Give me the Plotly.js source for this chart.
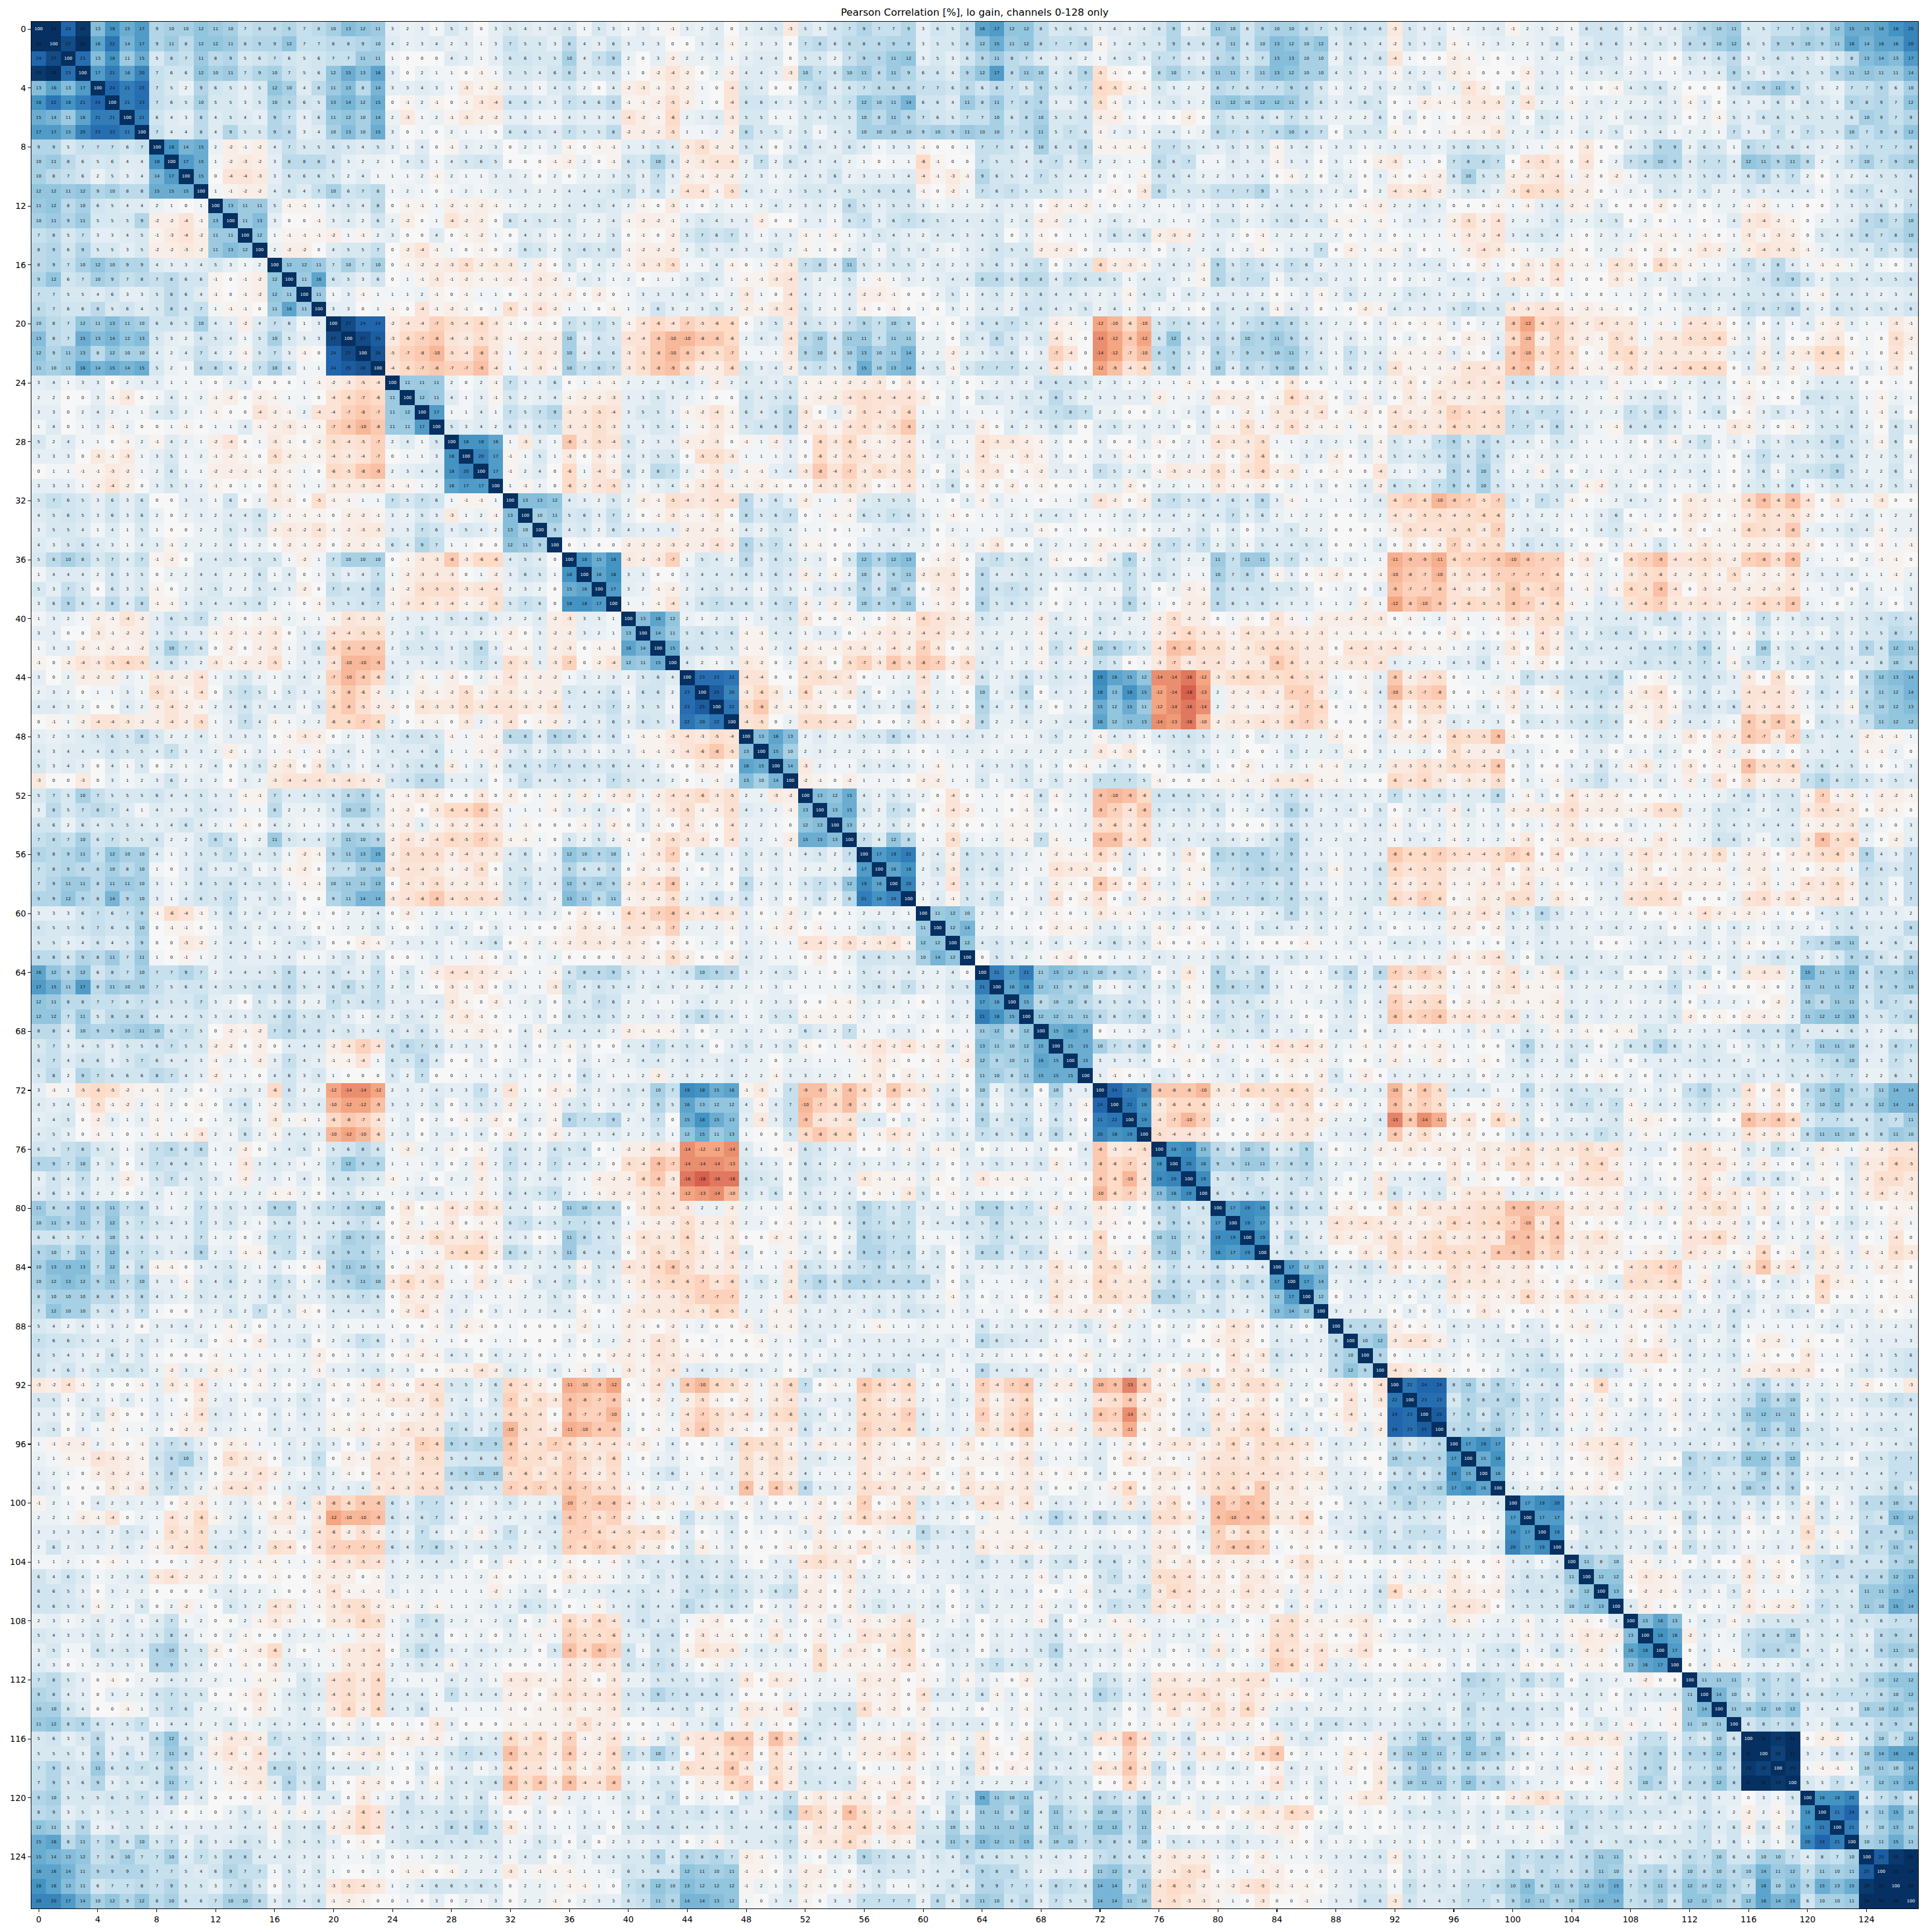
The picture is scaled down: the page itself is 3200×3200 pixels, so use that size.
<!DOCTYPE html>
<html><head><meta charset="utf-8"><script src="https://cdn.plot.ly/plotly-3.0.1.min.js"></script>
<style>html,body{margin:0;padding:0;background:#fff}</style></head><body><div id="c" style="width:3200px;height:3200px"></div>
<script>
const titleText='Pearson Correlation [%], lo gain, channels 0-128 only';
// Blocks of the correlation matrix: rows R.. , columns C.. (upper triangle is used, lower is its mirror)
const r0c0=[
[100,33,24,29,13,18,15,17,9,10,10,12,11,10,7,8,8,9,7,8,10,13,12,11,3,2,3,1,5,3,0,3],
[33,100,27,32,16,22,14,17,9,11,8,12,12,11,8,9,9,12,7,7,8,8,9,10,4,2,3,4,2,3,1,3],
[24,27,100,23,13,18,11,15,5,8,7,11,8,9,5,6,7,6,5,6,7,7,11,11,1,0,0,0,4,3,1,3],
[29,32,23,100,17,21,16,20,7,6,6,12,10,11,7,9,10,7,5,6,12,15,13,16,3,0,2,1,1,0,-1,1],
[13,16,13,17,100,24,21,23,7,5,2,9,6,5,3,5,12,10,4,8,11,13,8,14,3,3,4,3,1,-3,-1,-2],
[18,22,18,21,24,100,21,23,7,6,5,10,5,5,3,5,10,9,6,5,13,14,12,15,0,-1,2,-1,0,-1,-3,-4],
[15,14,11,16,21,21,100,21,6,4,3,8,4,5,4,3,9,7,3,6,11,12,10,14,2,-3,1,2,-1,-3,-2,-2],
[17,17,15,20,23,23,21,100,7,4,4,8,4,9,5,5,9,8,3,4,10,13,10,15,3,0,1,0,2,1,1,0],
[9,9,5,7,7,7,6,7,100,18,14,15,2,-2,-1,-2,4,7,5,5,6,5,4,5,3,1,4,0,-1,3,2,3],
[10,11,8,6,5,6,4,4,18,100,17,15,1,-2,-3,-2,3,8,8,8,6,3,2,2,1,4,5,1,4,5,6,5],
[10,8,7,6,2,5,3,4,14,17,100,15,0,-4,-4,-3,3,6,6,6,5,2,4,1,1,1,2,-1,2,1,1,3],
[12,12,11,12,9,10,8,8,15,15,15,100,1,-1,-2,-2,4,6,4,7,10,6,7,8,1,2,1,0,1,2,1,2],
[11,12,8,10,6,5,4,4,2,1,0,1,100,13,11,11,5,-1,-1,1,4,5,4,8,0,-1,-1,1,-2,-1,-2,-1],
[10,11,9,11,5,5,5,9,-2,-2,-4,-1,13,100,11,13,3,0,0,-1,3,4,2,6,2,-2,0,1,-4,-2,-2,0],
[7,8,5,7,3,3,4,5,-1,-3,-4,-2,11,11,100,12,1,-1,-1,-1,-2,1,-1,2,3,0,0,4,0,-1,-2,1],
[8,9,6,9,5,5,3,5,-2,-2,-3,-2,11,13,12,100,2,-2,-2,0,4,5,5,7,0,-2,-4,-1,1,0,-1,0],
[8,9,7,10,12,10,9,9,4,3,3,4,5,3,1,2,100,12,12,11,7,10,7,10,0,-1,-2,-2,-3,-5,-2,-3],
[9,12,6,7,10,9,7,8,7,8,6,6,-1,0,-1,-2,12,100,11,16,6,5,3,6,0,1,-1,-3,-1,-2,-1,-1],
[7,7,5,5,4,6,3,3,5,8,6,4,-1,0,-1,-2,12,11,100,11,1,3,-1,1,1,1,2,-1,0,-1,1,1],
[8,7,6,6,8,5,6,4,5,8,6,7,1,-1,-1,0,11,16,11,100,3,3,0,1,-1,0,-4,-1,-2,-1,0,1],
[10,8,7,12,11,13,11,10,6,6,5,10,4,3,-2,4,7,6,1,3,100,27,24,24,-2,-4,-4,-7,-5,-4,-6,-3],
[13,8,7,15,13,14,12,13,5,3,2,6,5,4,1,5,10,5,3,3,27,100,27,25,-3,-6,-7,-8,-4,-3,-5,-3],
[12,9,11,13,8,12,10,10,4,2,4,7,4,2,-1,5,7,3,-1,0,24,27,100,26,-5,-7,-8,-10,-5,-4,-8,-3],
[11,10,11,16,14,15,14,15,5,2,1,8,8,6,2,7,10,6,1,1,24,25,26,100,-4,-6,-7,-8,-7,-7,-9,-4],
[3,4,1,3,3,0,2,3,3,1,1,1,0,2,3,0,0,0,1,-1,-2,-3,-5,-4,100,11,11,11,2,0,2,-1],
[2,2,0,0,3,-1,-3,0,1,4,1,2,-1,-2,0,-2,-1,1,1,0,-4,-6,-7,-6,11,100,12,11,4,1,3,-1],
[3,3,0,2,4,2,1,1,4,5,2,1,-1,0,0,-4,-2,-1,2,-4,-4,-7,-8,-7,11,12,100,17,1,1,4,1],
[1,4,0,1,3,-1,2,0,0,1,-1,0,1,1,4,-1,-2,-3,-1,-1,-7,-8,-10,-8,11,11,17,100,5,3,4,2],
[5,2,4,1,1,0,-1,2,-1,4,2,1,-2,-4,0,1,-3,-1,0,-2,-5,-4,-5,-7,2,4,1,5,100,18,18,16],
[3,3,3,0,-3,-1,-3,1,3,5,1,2,-1,-2,-1,0,-5,-2,-1,-1,-4,-3,-4,-7,0,1,1,3,18,100,20,17],
[0,1,1,-1,-1,-3,-2,1,2,6,1,1,-2,-2,-2,-1,-2,-1,1,0,-6,-5,-8,-9,2,3,4,4,18,20,100,17],
[3,3,3,1,-2,-4,-2,0,3,5,3,2,-1,0,1,0,-3,-1,1,1,-3,-3,-3,-4,-1,-1,1,2,16,17,17,100]];
const r0c32=[
[5,4,3,4,5,1,5,3,1,3,1,-1,3,2,4,0,3,4,5,-3,5,3,6,7,9,7,7,9,3,6,5,8],
[7,5,5,3,8,4,3,6,3,3,3,0,0,3,4,-1,2,3,3,0,7,8,6,8,8,8,9,9,3,5,5,8],
[6,6,5,5,10,4,7,9,2,0,3,-2,2,2,3,1,3,4,4,0,5,5,2,7,9,9,11,12,3,5,3,6],
[5,5,4,6,8,4,5,6,1,0,-2,-4,-2,0,2,-2,4,4,3,-3,10,7,6,10,11,8,11,9,6,6,4,9],
[3,3,1,4,5,2,0,4,-2,-3,-1,-3,-2,1,0,-4,5,4,0,0,7,8,4,6,7,8,8,8,7,7,6,8],
[6,6,4,3,7,6,6,8,-1,-1,-2,-5,-2,1,0,-4,6,6,4,3,5,7,5,7,12,10,11,14,6,6,4,11],
[3,3,1,1,4,3,3,4,-4,-2,-1,-6,2,3,4,-3,5,5,1,1,5,4,5,5,10,8,11,9,7,6,5,7],
[6,6,5,4,7,5,5,8,-2,-2,-2,-5,1,1,2,-2,8,5,5,2,5,1,4,5,10,10,10,10,9,10,9,11],
[0,2,1,3,-1,0,-1,-1,3,3,5,4,-3,-5,-2,-2,5,4,0,3,6,4,3,6,4,1,3,3,-1,0,0,1],
[0,0,0,-1,-2,2,0,-1,6,5,10,6,-2,-3,-4,-4,2,7,2,6,4,3,4,2,1,0,1,1,-6,-1,0,0],
[3,2,0,2,0,2,2,3,5,3,7,3,-2,-1,-2,-2,2,3,1,2,4,3,6,2,3,3,3,4,-4,-1,-3,-1],
[3,3,2,2,4,4,4,5,7,3,6,2,-4,-4,-1,-5,4,3,2,3,5,5,4,5,5,6,6,6,-1,0,-2,1],
[1,2,2,2,4,4,5,4,2,-1,0,-3,1,0,2,1,1,2,4,2,3,4,2,8,5,3,5,5,3,1,2,2],
[6,4,5,4,5,2,2,4,-1,-2,-2,-1,3,5,4,3,3,-2,0,0,3,3,1,6,7,3,6,7,6,5,4,4],
[0,4,3,1,4,2,2,5,0,-1,0,-2,5,7,6,7,3,1,3,3,-1,1,-1,1,3,5,4,3,2,4,4,3],
[2,6,5,2,5,6,5,6,-1,-2,-2,-2,2,5,3,4,3,3,5,2,-1,1,0,2,4,1,5,3,4,2,1,3],
[-3,2,-2,0,5,1,4,2,-1,-3,-3,-5,1,1,4,-1,0,1,-2,-3,7,8,4,11,5,3,5,5,2,4,2,3],
[-2,-1,-3,-2,1,4,3,1,2,0,1,1,3,5,4,1,-1,-1,-3,-4,4,2,2,5,1,-1,1,3,2,3,4,4],
[0,-1,-2,-1,-2,0,-2,0,1,3,3,3,4,3,1,2,-3,1,0,-4,4,2,1,4,-2,-2,-1,0,0,2,5,1],
[-5,-1,-4,-2,1,1,0,-1,1,2,6,3,2,3,5,2,-2,-1,-3,-4,5,2,1,4,-1,0,-1,0,1,0,3,1],
[-1,0,-1,0,7,5,7,5,-1,-4,-6,-4,-7,-5,-6,-6,0,3,5,-3,6,5,3,7,9,7,10,9,0,1,0,3],
[-1,-2,-2,-2,10,3,6,5,-4,-4,-8,-10,-10,-8,-8,-6,2,4,3,-4,8,10,6,11,11,7,11,11,2,2,0,5],
[1,-2,-3,-2,10,4,6,6,-3,-5,-8,-10,-8,-6,-5,-7,1,1,1,-3,9,10,6,10,13,10,11,14,2,2,-2,2],
[1,-1,-3,-1,10,7,8,7,-3,-5,-8,-9,-6,-2,-2,-6,5,3,4,-2,6,7,5,9,15,10,13,14,4,5,-1,5],
[7,3,3,6,0,1,-1,-1,2,2,2,3,4,2,-2,2,4,4,3,5,-1,-1,-1,-2,-2,-3,0,-3,0,1,2,0],
[5,2,3,4,-1,-2,-2,-3,3,3,5,3,2,1,0,0,6,4,5,6,-1,-2,-2,-4,-5,-4,-4,-4,-2,0,3,0],
[7,5,7,9,-3,-3,-5,-4,3,5,5,3,-1,-2,-4,-1,6,4,6,8,-3,0,3,-2,-5,-4,-3,-6,1,1,3,1],
[6,3,6,7,-3,-3,-5,-3,3,3,5,4,1,-1,-3,-1,5,6,6,8,-2,-3,-1,-4,-5,-3,-5,-8,2,3,3,3],
[1,-3,3,1,-8,-3,-5,-4,5,2,3,3,-2,-2,-3,0,-1,1,-2,3,0,-6,-3,-6,-2,-1,-2,-4,1,4,1,1],
[-1,1,5,1,-3,0,-3,-1,4,3,5,5,0,-5,-5,-3,1,1,1,3,0,-6,-2,-5,-4,-2,-2,-5,1,2,3,1],
[-1,2,4,0,-6,1,-4,-2,6,2,8,7,2,-1,-3,2,-1,-1,3,4,-3,-8,-4,-7,-3,-5,-3,-5,2,0,4,-1],
[1,-1,2,0,-6,-2,-4,-5,3,1,3,4,-1,-3,-4,-1,-1,-2,-1,0,0,-4,-3,-5,-3,0,-1,-4,1,3,6,0]];
const r0c64=[
[16,17,12,12,8,5,6,5,3,4,3,4,6,9,3,4,11,10,6,9,10,10,8,7,5,7,6,6,-3,5,3,4],
[12,15,11,12,8,7,7,8,-1,3,4,5,5,9,6,6,8,11,6,10,13,12,10,12,4,6,5,4,-2,5,3,5],
[9,11,8,7,4,3,4,2,1,4,5,3,7,7,4,3,8,9,5,7,13,13,10,10,2,6,4,6,-4,1,0,0],
[12,17,8,11,10,4,6,9,-5,-1,0,0,8,10,7,6,11,11,7,11,13,12,10,10,4,5,3,3,-1,4,2,3],
[6,8,7,5,9,5,6,7,-6,-5,-2,-1,5,3,2,2,8,7,6,7,7,9,8,5,1,4,2,5,2,3,5,1],
[8,11,7,8,9,3,3,6,-5,-1,3,1,4,5,3,2,11,12,10,12,12,11,8,6,3,4,6,5,0,1,-2,-1],
[7,10,6,8,10,5,5,6,-2,-2,1,0,1,0,-2,0,7,5,5,6,4,7,5,3,2,2,2,6,0,4,0,1],
[10,10,7,8,11,5,7,6,-1,2,3,1,4,4,1,2,8,7,6,7,8,10,8,7,0,5,5,5,-1,1,0,1],
[7,7,6,4,10,6,6,8,-1,-1,-1,-1,7,7,5,4,3,5,3,5,-1,3,4,1,3,3,1,2,3,3,3,2],
[7,5,5,4,6,7,4,7,2,2,1,1,8,6,7,1,1,4,3,3,-1,3,3,0,3,1,0,-2,-3,1,1,0],
[9,6,5,4,7,5,4,4,2,0,1,-1,6,6,4,2,2,3,3,4,0,-1,2,0,4,2,0,3,-1,0,-1,-2],
[7,6,7,5,5,5,3,3,0,-1,0,-3,8,5,5,5,7,7,7,9,3,5,5,3,2,4,0,2,-4,-3,-4,-2],
[2,4,3,3,0,-2,-1,-2,1,0,1,2,1,1,3,1,3,3,1,2,4,4,4,2,1,0,-1,-2,2,2,4,3],
[4,5,2,4,-2,-2,2,1,2,4,2,1,2,1,1,2,5,5,2,3,5,6,4,5,-1,-1,1,-1,1,3,3,2],
[4,5,0,3,-1,0,1,1,3,6,4,6,-2,-3,-2,2,3,2,0,-1,2,2,2,2,2,0,1,2,0,1,1,1],
[4,6,5,5,-2,-2,-2,0,2,1,1,2,0,3,2,2,4,1,2,-1,1,3,3,7,0,-2,1,-1,-1,3,0,1],
[5,6,3,6,7,0,3,4,-6,-2,-3,-1,3,4,3,-1,9,5,7,6,4,7,6,2,3,3,1,3,2,3,4,4],
[8,8,6,8,8,4,7,6,6,5,1,4,4,3,1,-1,9,6,7,7,1,5,4,5,2,3,1,2,0,2,1,2],
[4,5,2,5,6,4,4,3,2,3,-1,4,5,1,4,2,3,3,3,2,0,1,3,-1,2,5,2,2,2,5,4,3],
[4,4,2,6,6,4,3,5,2,4,1,3,1,2,1,0,6,4,4,6,-1,4,3,0,1,0,-2,-1,4,3,3,3],
[6,6,7,5,4,-2,-1,1,-12,-10,-6,-10,5,7,6,4,7,4,7,8,9,8,5,4,2,2,0,3,-1,0,-1,-1],
[4,8,5,3,5,-4,-1,0,-14,-12,-8,-12,6,12,6,5,8,6,10,9,11,9,6,4,1,4,1,3,0,2,0,-1],
[3,5,6,1,3,-7,-4,0,-14,-12,-7,-10,8,9,5,2,9,7,9,9,10,11,7,4,1,7,3,4,-1,-1,-1,-2],
[7,7,7,4,4,-4,1,0,-12,-9,-4,-6,6,9,4,1,10,4,8,7,9,10,6,5,1,6,2,5,-4,-1,-1,-1],
[1,2,3,2,6,6,6,5,2,3,1,2,1,1,-1,1,0,0,0,1,0,-3,0,0,1,1,0,2,-1,-3,0,-2],
[5,4,3,5,4,8,5,2,3,3,3,3,-2,1,1,2,-3,-2,-2,0,-1,-6,-3,-2,0,3,-1,3,0,-3,-1,-4],
[1,1,3,4,6,7,8,7,2,2,0,0,2,1,2,4,0,1,-2,1,-3,-3,-2,-4,0,-1,-2,0,-4,-2,-2,-3],
[-2,0,4,2,3,6,4,0,4,5,2,3,2,3,0,4,-1,-1,-5,-1,-2,-5,-2,-1,-1,1,-1,0,-4,-5,-3,-3],
[-4,-3,-3,-2,-1,2,0,0,3,0,0,3,-1,0,2,1,-4,-3,-3,-5,1,1,2,3,2,1,4,-1,5,3,3,7],
[-4,-1,-1,-3,-1,3,0,1,3,3,-1,1,0,2,2,1,-2,0,-3,-6,0,1,3,2,-2,0,3,-1,5,4,5,6],
[-3,-3,0,-1,-2,3,3,1,7,5,2,4,-1,-3,-2,-2,-5,-1,-4,-6,-2,-3,1,0,-1,0,0,-4,2,1,3,3],
[-2,0,-2,0,-1,0,0,1,2,3,-2,0,2,2,1,1,-3,-1,-1,-2,0,2,1,3,0,1,4,-2,6,5,4,7]];
const r0c96=[
[1,2,3,4,-1,2,3,2,1,6,6,6,2,5,3,4,7,9,10,11,5,5,7,7,9,8,12,15,15,16,18,20],
[-1,1,2,3,2,2,3,6,1,4,6,6,3,4,5,3,8,8,10,12,6,5,9,9,10,9,11,16,14,16,16,20],
[-2,-1,1,0,1,1,3,2,2,6,5,5,1,3,1,0,5,4,6,8,3,5,6,5,5,3,5,8,13,14,13,17],
[-2,-1,0,0,0,-2,3,3,1,4,3,4,2,3,1,1,3,3,4,9,5,3,5,6,5,5,9,11,12,11,11,14],
[2,-4,-2,0,4,-1,4,3,0,1,0,-1,4,5,6,2,0,0,0,6,8,9,11,9,5,3,2,7,7,9,6,10],
[-1,-3,-3,-3,2,-4,2,2,-1,2,3,2,2,2,4,3,-1,3,0,4,3,3,6,3,6,5,3,9,8,9,7,12],
[0,-2,-2,-1,3,0,5,4,1,3,2,1,4,4,5,3,0,2,-1,5,3,6,6,5,5,5,5,6,10,9,7,9],
[-1,-1,-1,-3,2,2,4,2,1,4,2,5,1,3,4,1,2,2,1,7,3,3,7,4,7,5,5,10,7,9,8,12],
[5,6,5,5,3,1,1,-1,0,-3,0,0,4,5,9,9,2,6,5,1,8,7,6,6,4,3,2,5,7,7,7,8],
[7,8,8,7,0,-4,-5,-3,0,-4,0,2,7,8,10,9,4,7,7,4,12,11,9,11,8,2,4,7,10,7,9,10],
[6,10,5,5,-2,-2,-3,-4,1,-2,0,-2,1,4,5,5,3,5,6,4,6,8,5,7,2,0,3,2,4,5,5,6],
[3,5,4,2,-3,-6,-5,-5,-2,-2,0,1,2,1,5,4,2,5,2,2,5,3,4,4,4,1,3,6,7,4,5,6],
[0,0,0,-1,1,-1,3,4,-2,-1,3,0,0,0,-2,0,2,0,2,2,-1,-2,1,1,0,0,3,3,5,6,3,7],
[-2,-5,-2,-4,2,2,3,5,2,2,4,5,0,2,0,1,1,0,1,4,-3,-4,-2,-1,0,2,3,4,8,9,7,10],
[-1,-3,-2,-4,3,4,5,4,1,0,2,3,2,-1,-1,-1,1,-1,0,1,-3,-1,-3,-2,0,5,4,6,8,7,8,10],
[1,-2,-4,-3,-1,1,2,2,-1,0,2,2,-1,0,-2,0,-1,-3,-2,2,-2,-4,-3,-3,-1,2,4,5,4,7,5,8],
[1,0,-2,1,0,-3,-1,-5,-1,-1,1,-4,-3,0,-6,-3,-1,1,1,4,7,4,8,4,1,-1,-1,1,4,1,0,3],
[4,4,2,3,-3,-3,-1,-4,1,0,0,-3,-1,3,2,3,1,4,3,3,5,6,8,9,6,2,5,5,4,5,5,6],
[2,3,1,4,4,1,2,0,1,0,0,1,1,2,0,3,5,5,4,4,5,5,6,5,1,-1,4,4,3,2,3,4],
[5,7,5,5,-3,-3,-4,-4,-1,-2,-1,-1,0,2,1,1,3,4,2,4,7,6,7,8,4,2,6,5,4,5,4,6],
[3,0,2,2,-8,-12,-6,-7,-4,-2,-4,-3,-3,1,-1,1,-4,-4,-3,0,4,0,4,1,4,-1,-2,3,1,1,-3,-1],
[0,-2,-1,3,-6,-10,-2,-7,-3,-2,-1,-5,-3,1,-3,-3,-5,-5,-6,-1,3,-1,4,0,0,-2,-3,0,1,0,-5,-2],
[3,-1,0,4,-8,-10,-5,-7,-5,0,-1,-5,-6,-2,-3,-3,-3,-3,-2,3,4,-2,4,-2,-3,-6,-6,-1,1,0,-4,-1],
[-2,-4,-4,-3,-8,-9,-2,-7,-4,-1,-1,-2,-5,-2,-4,-4,-6,-6,-6,0,3,-3,2,-2,1,-4,-4,0,3,1,-3,0],
[-3,-4,-3,-4,6,6,4,6,3,3,3,-1,1,1,0,2,2,4,4,0,-1,0,1,0,2,4,4,4,0,0,1,0],
[-2,-2,-3,-3,3,4,2,4,2,2,1,-1,3,4,5,3,1,4,3,1,-2,1,0,0,6,6,5,5,1,-1,2,1],
[-7,-5,-4,-5,7,6,7,7,4,2,2,2,7,5,8,5,1,4,6,0,-1,3,5,3,3,5,4,6,1,-1,4,0],
[-6,-5,-4,-5,7,7,4,8,4,3,1,-1,6,6,6,4,1,1,1,-3,-2,2,0,-1,2,5,5,6,2,0,6,3],
[9,5,8,6,4,4,1,5,4,1,1,1,2,0,3,-1,4,7,1,3,1,5,3,5,5,6,8,5,3,-1,6,0],
[8,6,9,6,2,1,2,3,2,1,1,1,2,1,2,3,2,3,1,0,4,7,4,4,3,5,6,6,2,2,5,2],
[9,6,10,5,1,2,-1,4,0,2,1,2,1,2,4,2,3,4,1,0,3,6,1,5,6,7,9,5,2,2,6,1],
[9,6,10,5,3,3,3,5,4,-1,-2,3,2,0,3,1,1,4,1,0,4,5,3,6,1,3,5,5,4,2,5,3]];
const r32c32=[
[100,13,13,12,4,3,2,5,2,-2,-1,-5,-4,-3,-4,-4,8,3,6,3,-2,1,1,-1,4,5,5,5,1,1,0,3],
[13,100,10,11,5,6,3,7,2,0,-1,-3,-1,-1,-3,0,8,5,6,7,0,1,-1,-1,6,5,7,6,3,1,-1,0],
[13,10,100,9,4,5,2,6,4,3,3,3,-2,-2,-2,-1,4,2,5,4,1,1,0,1,1,3,3,4,3,0,2,1],
[12,11,9,100,0,1,0,0,-2,-2,-2,-3,-2,-2,-4,-2,9,5,7,4,-1,-1,0,0,3,3,4,2,2,0,-1,2],
[4,5,4,0,100,18,15,18,-3,-2,-3,-7,1,5,4,2,8,3,6,5,2,3,0,5,12,9,12,13,0,-1,-2,0],
[3,6,5,1,18,100,16,18,3,3,0,0,3,4,4,4,6,3,6,4,-2,2,-1,2,10,6,9,11,-2,-3,-3,0],
[2,3,2,0,15,16,100,17,3,2,-1,-2,2,4,5,3,4,1,5,3,1,4,3,5,9,6,10,8,0,-2,-3,0],
[5,7,6,0,18,18,17,100,1,1,-1,-4,3,6,7,6,6,3,6,7,-2,2,-2,2,10,8,9,11,1,-1,-2,0],
[2,2,4,-2,-3,3,3,1,100,13,16,12,2,1,2,3,1,3,4,5,-3,0,0,-1,1,0,-2,-1,-6,-4,-3,-2],
[-2,0,3,-2,-2,3,2,1,13,100,14,11,5,6,5,6,-1,-1,4,4,1,3,3,0,-1,-2,-3,-2,-4,-4,-2,-2],
[-1,-1,3,-2,-3,0,-1,-1,16,14,100,15,6,6,5,5,-1,-1,2,4,-2,-1,-1,-3,-3,-1,-4,-2,-7,-3,0,-1],
[-5,-3,3,-3,-7,0,-2,-4,12,11,15,100,4,2,1,3,-3,-2,0,2,-4,-3,0,-5,-7,-3,-8,-5,-8,-7,-2,-5],
[-4,-1,-2,-2,1,3,2,3,2,5,6,4,100,23,23,22,-4,-4,0,0,-4,-5,-4,-3,0,1,1,2,-4,2,0,-2],
[-3,-1,-2,-2,5,4,4,6,1,6,6,2,23,100,25,20,-3,-6,-3,1,-6,-1,-1,-3,4,0,2,3,-3,2,1,0],
[-4,-3,-2,-4,4,4,5,7,2,5,5,1,23,25,100,22,-5,-8,-2,-1,-3,-2,0,0,4,3,2,6,-4,2,2,0],
[-4,0,-1,-2,2,4,3,6,3,6,5,3,22,20,22,100,-4,-5,0,2,-5,-5,-4,-4,1,0,0,2,-3,-1,0,-2],
[8,8,4,9,8,6,4,6,1,-1,-1,-3,-4,-3,-5,-4,100,13,16,13,2,4,2,3,5,5,8,6,3,3,3,4],
[3,5,2,5,3,3,1,3,3,-1,-1,-2,-4,-6,-8,-5,13,100,15,10,2,3,2,2,2,1,2,1,0,1,2,2],
[6,6,5,7,6,6,5,6,4,4,2,0,0,-3,-2,0,16,15,100,14,-3,2,1,1,4,3,4,3,1,-1,1,1],
[3,7,4,4,5,4,3,7,5,4,4,2,0,1,-1,2,13,10,14,100,-2,-1,0,-2,1,1,1,0,-2,-2,1,1],
[-2,0,1,-1,2,-2,1,-2,-3,1,-2,-4,-4,-6,-3,-5,2,2,-3,-2,100,13,12,15,4,2,5,3,2,0,-4,0],
[1,1,1,-1,3,2,4,2,0,3,-1,-3,-5,-1,-2,-5,4,3,2,-1,13,100,13,15,5,2,7,6,0,-1,-4,-2],
[1,-1,0,0,0,-1,3,-2,0,3,-1,0,-4,-1,0,-4,2,2,1,0,12,13,100,13,2,2,5,2,0,1,-2,0],
[-1,-1,1,0,5,2,5,2,-1,0,-3,-5,-3,-3,0,-4,3,2,1,-2,15,15,13,100,7,4,12,8,1,1,-5,2],
[4,6,1,3,12,10,9,10,1,-1,-3,-7,0,4,4,1,5,2,4,1,4,5,2,7,100,17,19,21,2,4,-2,6],
[5,5,3,3,9,6,6,8,0,-2,-1,-3,1,0,3,0,5,1,3,1,2,2,2,4,17,100,16,18,2,5,-3,6],
[5,7,3,4,12,9,10,9,-2,-3,-4,-8,1,2,2,0,8,2,4,1,5,7,5,12,19,16,100,20,2,3,-4,5],
[5,6,4,2,13,11,8,11,-1,-2,-2,-5,2,3,6,2,6,1,3,0,3,6,2,8,21,18,20,100,1,4,-1,5],
[1,3,3,2,0,-2,0,1,-6,-4,-7,-8,-4,-3,-4,-3,3,0,1,-2,2,0,0,1,2,2,2,1,100,11,12,10],
[1,1,0,0,-1,-3,-2,-1,-4,-4,-3,-7,2,2,2,-1,3,1,-1,-2,0,-1,1,1,4,5,3,4,11,100,12,14],
[0,-1,2,-1,-2,-3,-3,-2,-3,-2,0,-2,0,1,2,0,3,2,1,1,-4,-4,-2,-5,-2,-3,-4,-1,12,12,100,12],
[3,0,1,2,0,0,0,0,-2,-2,-1,-5,-2,0,0,-2,4,2,1,1,0,-2,0,2,6,6,5,5,10,14,12,100]];
const r32c64=[
[-1,3,1,1,0,1,1,3,-4,-2,0,-2,6,7,5,6,4,6,4,8,3,-1,1,1,1,1,2,4,-6,-7,-6,-10],
[1,1,2,1,4,4,3,1,1,2,4,2,4,4,2,4,4,7,3,6,2,1,2,2,0,0,2,2,-4,-3,-5,-5],
[1,1,3,3,-1,0,1,0,0,1,2,0,2,2,3,5,1,4,0,3,3,5,2,2,0,0,0,1,-2,-5,-4,-4],
[-1,-3,0,0,4,2,1,2,-2,-1,-1,-2,6,7,4,7,2,5,1,5,4,4,5,4,0,0,1,4,0,-3,0,-2],
[6,7,5,6,4,-1,0,0,-1,4,9,2,5,4,2,2,11,7,11,11,5,7,3,4,1,3,1,1,-11,-9,-9,-11],
[8,4,4,5,4,3,4,6,4,5,7,3,6,4,1,1,10,7,8,6,-1,3,0,-1,-2,0,0,-1,-10,-8,-7,-10],
[8,6,7,6,4,0,1,2,2,1,7,3,0,2,-2,-1,8,6,6,6,5,5,3,0,1,2,0,3,-9,-7,-7,-8],
[9,5,6,5,2,0,2,1,3,3,9,4,1,0,-2,-2,8,6,5,6,4,3,3,1,1,2,-2,1,-12,-8,-10,-8],
[5,4,2,2,-2,4,2,1,5,4,2,2,-2,-5,-2,-2,0,1,-1,0,-4,-1,1,-2,-2,-2,-2,-3,0,-1,1,2],
[3,2,2,2,-1,4,4,2,4,2,3,2,-2,-4,-6,-3,-3,-1,-4,-3,-3,-3,-2,-3,-1,-1,-1,-1,-1,0,0,0],
[3,4,1,3,-1,7,4,-2,10,9,7,5,-4,-9,-8,-5,-5,-2,-3,-5,-6,-5,-3,-3,0,-4,-4,-3,-4,-2,-1,-1],
[4,3,1,2,-1,4,2,2,7,5,0,1,-3,-7,-3,-4,-4,-2,-3,-3,-8,-6,-3,-3,-2,-3,-3,-4,3,2,2,1],
[6,2,3,6,3,5,4,3,19,16,15,12,-14,-14,-16,-12,-3,-5,-6,-5,-5,-6,-5,-4,1,0,-1,3,-8,-2,-4,-5],
[10,2,4,8,0,4,3,2,18,13,18,15,-12,-14,-18,-13,2,-2,-2,-3,-2,-7,-7,-3,2,0,-1,4,-10,-5,-7,-8],
[9,4,2,6,2,0,3,2,15,12,15,11,-12,-14,-16,-14,2,-2,-1,-1,-2,-4,-7,-6,0,1,0,3,-6,-1,-5,-5],
[8,2,2,4,2,3,4,4,16,12,13,13,-14,-13,-16,-10,-2,-3,-3,-4,-3,-6,-7,-5,0,0,0,2,-5,0,-3,-2],
[3,2,1,1,3,5,2,2,-1,4,3,1,4,5,6,5,2,2,0,4,2,3,2,2,-2,0,0,4,-2,-2,-4,-1],
[2,1,2,2,2,2,2,2,-3,-1,-3,0,1,4,5,3,1,2,0,0,1,5,2,2,3,-1,0,3,1,1,2,0],
[4,3,3,5,1,3,0,-1,1,4,3,0,0,3,4,6,1,0,-2,1,1,2,1,-1,-1,2,2,2,-3,-3,-5,-3],
[5,1,3,5,2,5,2,3,7,7,7,5,-1,0,0,0,-1,-1,-1,-1,-3,-3,-4,-1,-1,1,0,0,-6,-4,-6,-3],
[1,1,0,-1,6,-1,2,3,-9,-10,-9,-6,6,6,6,5,4,2,4,2,6,7,4,3,4,3,3,2,7,3,5,6],
[1,1,0,-1,4,0,1,2,-9,-7,-4,-8,5,4,5,3,6,1,2,4,5,9,6,2,3,4,1,5,0,2,4,2],
[0,1,-1,-1,2,1,1,2,-5,-6,-3,-6,3,2,3,2,3,0,0,0,3,6,3,3,3,1,3,4,-1,3,1,3],
[1,2,-1,-1,7,-1,1,1,-9,-9,-4,-6,3,4,3,4,5,4,2,4,6,9,4,2,2,3,2,3,1,3,3,2],
[5,5,3,2,1,-2,-1,-1,-6,-3,4,1,0,3,-3,0,9,8,9,9,7,9,3,3,1,3,3,3,-8,-6,-6,-7],
[4,6,2,1,1,-4,-3,-3,-2,0,4,-1,0,2,-1,-1,7,7,8,9,8,8,4,5,-1,3,3,6,-6,-4,-5,-5],
[3,4,2,0,3,-2,-1,0,-8,-4,0,-4,2,3,-1,1,5,6,7,7,6,8,3,3,1,3,3,5,-4,-2,-4,-5],
[4,7,1,1,3,-4,0,-2,-4,0,3,-2,-1,2,-1,-3,7,7,7,8,7,8,5,6,1,3,4,5,-6,-4,-7,-6],
[2,3,0,2,1,-1,0,1,-3,-1,-1,1,3,4,3,5,3,2,1,2,4,8,3,5,2,2,4,1,2,2,4,4],
[2,2,1,1,0,-2,-1,-1,3,3,1,3,-1,2,-1,0,4,4,1,5,4,3,2,4,1,2,4,3,0,1,1,2],
[4,5,3,4,1,4,1,2,4,6,3,5,-1,0,0,-1,1,4,1,0,0,0,-1,1,1,3,1,1,4,4,3,3],
[0,5,3,2,1,-1,-2,0,0,1,1,2,4,3,2,2,5,6,4,3,3,5,3,3,1,1,3,1,1,2,1,2]];
const r32c96=[
[-8,-7,-5,-7,5,2,7,5,-1,0,1,2,4,3,2,0,-3,-2,-1,-1,-6,-9,-6,-9,-4,0,-3,1,1,-3,0,0],
[-4,-5,-6,-6,2,3,2,2,1,1,3,6,0,1,2,0,-3,-2,0,-1,-3,-5,-4,-5,-2,0,1,2,4,1,2,2],
[-5,-5,-3,-7,2,3,4,2,0,1,4,5,2,-1,0,0,-2,0,-1,-1,-6,-5,-4,-8,2,3,3,5,4,-1,2,2],
[-7,-3,-5,-5,3,6,4,5,2,0,0,3,-1,1,5,1,-1,-3,-1,-1,-2,-2,-1,-3,-2,0,1,3,0,-1,1,-1],
[-6,-7,-7,-8,-10,-8,-7,-7,-1,-3,2,0,-6,-7,-9,-4,-4,-5,-3,-2,-7,-8,-5,-9,2,1,1,0,2,-1,-1,0],
[-3,-5,-4,-7,-7,-7,-7,-6,0,-1,2,1,-3,-5,-6,-2,-2,-3,-1,-5,-1,-2,-1,-4,2,3,3,4,1,1,-1,2],
[-4,-3,-2,-5,-8,-5,-6,-7,1,-1,3,-1,-6,-5,-9,-4,0,-3,-2,-2,-2,-2,-3,-4,1,1,3,0,4,1,1,3],
[-4,-6,-5,-5,-8,-7,-4,-6,-1,1,4,3,-4,-6,-7,-3,-3,-4,-3,-2,-4,-6,-5,-8,2,1,0,2,4,2,0,3],
[-1,1,1,-1,-4,-2,-5,-5,3,3,4,4,4,3,6,6,2,5,4,0,2,7,2,3,5,4,5,3,5,6,7,6],
[-2,0,1,0,-1,1,-4,-2,5,2,5,6,6,3,1,4,2,5,3,0,-1,5,1,2,3,1,5,2,5,5,8,7],
[1,2,4,2,-3,0,-5,-2,4,5,4,4,4,6,6,7,5,9,4,1,2,10,3,5,4,6,6,3,9,6,12,11],
[4,3,6,1,-1,1,-2,0,4,3,3,4,5,6,5,6,5,7,4,-1,5,7,2,5,7,5,6,4,4,6,10,9],
[0,1,1,2,1,7,4,5,6,6,6,8,1,0,-1,2,5,6,5,3,-3,0,-5,0,0,5,4,0,9,12,13,14],
[0,0,1,-1,-3,2,0,-2,5,6,7,6,-1,-3,-4,0,3,6,2,3,-4,-4,-4,-2,2,6,4,2,8,11,12,14],
[1,1,4,1,-2,3,1,1,4,4,6,4,-2,-1,-3,-1,5,6,4,6,-4,-3,-4,-2,1,4,3,-1,9,10,12,13],
[4,2,2,3,0,5,4,3,5,6,7,6,0,-1,-3,2,4,4,2,1,-8,-6,-8,-6,0,6,5,3,7,11,12,12],
[-6,-5,-5,-9,-1,0,0,0,1,4,5,4,0,0,2,1,-3,0,-3,-2,-8,-7,-3,-7,5,3,4,4,-2,-1,-1,1],
[-5,-2,-2,-2,3,3,1,0,0,3,3,0,2,1,4,2,0,0,-2,2,-2,0,2,0,3,3,4,4,-1,-1,2,0],
[-5,-5,-4,-8,0,3,0,0,3,2,6,2,-1,-3,2,1,-3,0,-1,-1,-9,-5,-5,-6,4,6,4,5,1,0,1,3],
[-1,-3,-2,-5,0,3,1,-1,3,5,7,3,3,1,4,1,-2,2,-4,0,-5,-1,-2,-2,7,9,6,7,5,3,5,4],
[3,4,4,8,1,-1,3,0,-4,-1,-2,-2,0,0,0,1,1,1,2,4,6,3,5,5,-1,-7,-1,-2,1,-2,-2,-1],
[-2,4,1,3,-2,-2,-2,-3,-5,-2,-2,-2,-1,-2,-5,-5,2,2,5,5,4,2,4,5,-3,-5,-4,-3,0,-2,-1,0],
[-1,2,1,3,0,2,1,-2,-3,1,0,0,3,1,1,-1,1,2,5,4,3,4,4,4,-1,-2,-2,-3,4,1,0,3],
[-1,2,1,2,-1,-3,0,-1,-3,-3,-2,-2,-1,1,-3,-1,1,2,6,6,3,1,4,5,-3,-9,-5,-6,2,0,-2,3],
[-5,-4,-4,-5,-7,-6,0,-4,0,3,2,3,-2,-4,-2,-1,-3,-2,-5,1,-2,-2,0,-2,-3,-5,-6,-3,9,4,3,7],
[-2,-2,-1,-4,0,-3,-1,-1,2,2,3,5,-1,-3,0,-1,-2,-1,-1,2,-2,-2,1,-1,0,-2,-2,1,7,6,5,7],
[-1,-1,-2,-3,-1,-4,2,-1,0,1,3,3,-2,-3,-4,-2,-2,-2,-2,1,-1,-3,1,-1,-4,-3,-5,-2,6,5,1,7],
[0,-1,-3,-2,-5,-5,2,-3,-1,0,2,3,-4,-5,-5,-4,0,0,0,2,-4,-5,-2,-4,-2,-3,-4,-1,6,5,1,7],
[-3,-2,-4,-2,5,3,8,5,2,3,1,2,2,0,0,-1,-1,-4,-2,-1,-2,-1,1,0,0,4,5,6,3,3,3,2],
[-2,-2,0,-2,3,2,5,3,3,2,3,4,2,2,3,0,1,4,1,4,2,1,3,2,2,1,5,6,5,4,4,8],
[1,0,1,0,4,2,4,3,3,3,0,0,1,3,4,3,3,4,1,3,-1,0,1,2,7,8,10,11,4,4,6,4],
[-3,-1,-3,-4,3,0,5,4,4,4,3,2,3,4,3,2,-1,2,2,4,2,4,6,4,5,2,5,9,8,6,4,8]];
const r64c64=[
[100,21,17,21,11,13,12,11,10,8,9,7,0,3,-3,1,9,5,5,8,2,1,0,1,6,8,2,8,-7,-5,-7,-5],
[21,100,16,18,12,11,9,10,2,1,4,6,2,5,-1,1,9,8,7,8,3,1,2,1,2,6,2,4,-4,-1,-2,-3],
[17,16,100,15,8,10,10,8,6,5,6,5,1,3,-1,0,6,5,6,4,2,1,1,2,3,5,1,4,-7,-4,-5,-6],
[21,18,15,100,12,12,11,11,8,6,7,8,1,3,-1,2,7,5,4,7,3,2,0,0,3,4,1,3,-8,-6,-7,-8],
[11,12,8,12,100,15,16,15,0,1,1,2,3,5,1,1,4,5,4,6,2,3,2,0,4,4,0,4,2,1,0,1],
[13,11,10,12,15,100,15,15,10,7,6,8,0,-2,1,2,-2,1,1,-1,-4,-3,-4,-2,2,1,-1,1,-2,0,-1,-2],
[12,9,10,11,16,15,100,15,3,3,3,4,0,1,-1,0,3,2,0,1,-1,-2,-1,-1,2,0,0,2,-2,1,1,-2],
[11,10,8,11,15,15,15,100,3,-1,0,1,4,3,0,1,2,3,1,4,0,-1,0,-2,5,1,-2,0,3,2,3,2],
[10,2,6,8,0,10,3,3,100,24,21,20,-8,-8,-8,-10,-3,-2,-6,-5,-5,-6,-5,-2,2,3,2,3,-10,-4,-8,-5],
[8,1,5,6,1,7,3,-1,24,100,22,18,-3,-6,-6,-6,-1,-1,0,-1,-5,-3,-5,0,-2,0,2,1,-9,-5,-7,-5],
[9,4,6,7,1,6,3,0,21,22,100,19,-4,-7,-10,-7,2,0,0,2,-1,-3,-3,-2,2,2,2,4,-15,-8,-14,-11],
[7,6,5,8,2,8,4,1,20,18,19,100,-5,-4,-4,-3,0,0,0,-2,-2,-3,-3,1,3,3,4,2,-8,-2,-5,-1],
[0,2,1,1,3,0,0,4,-8,-3,-4,-5,100,18,19,13,8,6,10,9,4,6,9,4,0,1,2,-2,-1,-3,-1,-2],
[3,5,3,3,5,-2,1,3,-8,-6,-7,-4,18,100,20,16,9,9,11,11,7,8,9,5,2,3,2,0,-1,0,0,0],
[-3,-1,-1,-1,1,1,-1,0,-8,-6,-10,-4,19,20,100,19,5,6,7,5,4,6,7,5,2,0,2,-3,3,3,4,4],
[1,1,0,2,1,2,0,1,-10,-6,-7,-3,13,16,19,100,6,5,6,7,4,6,3,5,0,0,2,-3,6,2,3,5],
[9,9,6,7,4,-2,3,2,-3,-1,2,0,8,9,5,6,100,17,19,18,6,8,6,6,-1,-2,0,0,-5,-1,-4,-3],
[5,8,5,5,5,1,2,3,-2,-1,0,0,6,9,6,5,17,100,19,17,3,5,3,3,-4,-3,-4,-3,-2,-2,-1,-3],
[5,7,6,4,4,1,0,1,-6,0,0,0,10,11,7,6,19,19,100,19,3,8,4,2,-3,-2,-1,-3,-5,-1,-4,-5],
[8,8,4,7,6,-1,1,4,-5,-1,2,-2,9,11,5,7,18,17,19,100,4,6,5,4,0,0,-3,-1,-5,-3,-4,-6],
[2,3,2,3,2,-4,-1,0,-5,-5,-1,-2,4,7,4,4,6,3,3,4,100,17,12,13,4,4,6,4,-3,0,-1,-1],
[1,1,1,2,3,-3,-2,-1,-6,-3,-3,-3,6,8,6,6,8,5,8,6,17,100,17,14,2,3,4,2,2,3,2,4],
[0,2,1,0,2,-4,-1,0,-5,-5,-3,-3,9,9,7,3,6,3,4,5,12,17,100,12,0,3,3,1,2,0,3,2],
[1,1,2,0,0,-2,-1,-2,-2,0,-2,1,4,5,5,5,6,3,2,4,13,14,12,100,3,2,2,2,0,3,0,3],
[6,2,3,3,4,2,2,5,2,-2,2,3,0,2,2,0,-1,-4,-3,0,4,2,0,3,100,8,8,8,-2,0,-1,1],
[8,6,5,4,4,1,0,1,3,0,2,3,1,3,0,0,-2,-3,-2,0,4,3,3,2,8,100,10,12,-3,-4,-4,-2],
[2,2,1,1,0,-1,0,-2,2,2,2,4,2,2,2,2,0,-4,-1,-3,6,4,3,2,8,10,100,9,0,1,1,3],
[8,4,4,3,4,1,2,0,3,1,4,2,-2,0,-3,-3,0,-3,-3,-1,4,2,1,2,8,12,9,100,-4,-3,-1,-2],
[-7,-4,-7,-8,2,-2,-2,3,-10,-9,-15,-8,-1,-1,3,6,-5,-2,-5,-5,-3,2,2,0,-2,-3,0,-4,100,22,24,24],
[-5,-1,-4,-6,1,0,1,2,-4,-5,-8,-2,-3,0,3,2,-1,-2,-1,-3,0,3,0,3,0,-4,1,-3,22,100,23,23],
[-7,-2,-5,-7,0,-1,1,3,-8,-7,-14,-5,-1,0,4,3,-4,-1,-4,-4,-1,2,3,0,-1,-4,1,-1,24,23,100,25],
[-5,-3,-6,-8,1,-2,-2,2,-5,-5,-11,-1,-2,0,4,5,-3,-3,-5,-6,-1,4,2,3,1,-2,3,-2,24,23,25,100]];
const r64c96=[
[0,-1,0,-2,-4,2,-1,-3,6,3,4,5,0,0,0,5,3,6,0,4,-3,-3,-3,2,15,11,11,13,6,9,9,11],
[1,-1,0,-3,-4,-1,-1,-1,3,2,2,2,2,3,4,7,1,-1,1,0,0,-1,0,2,11,11,11,12,6,8,9,10],
[0,-2,-1,-2,-1,-1,-1,-2,3,2,3,2,1,2,2,4,0,3,2,2,1,0,-2,2,10,8,11,11,5,8,7,6],
[-3,-4,-3,-3,-4,3,-1,-2,6,2,3,2,2,3,3,5,-2,0,-1,0,-2,-2,-1,2,11,12,12,13,5,5,7,8],
[1,3,-1,3,1,4,2,-1,2,-1,0,-1,-1,5,5,2,2,3,3,4,6,6,6,8,4,4,4,6,3,2,4,3],
[1,1,0,0,4,9,3,2,5,4,0,2,6,6,9,6,3,5,4,1,3,5,3,7,7,11,11,10,4,3,8,7],
[0,1,-1,0,3,6,2,2,6,1,1,3,0,3,3,3,4,5,4,4,2,4,4,5,5,7,8,10,3,3,7,5],
[2,3,0,2,2,3,1,2,2,0,-1,0,2,0,4,3,1,3,3,3,5,3,3,5,4,5,7,7,2,2,6,5],
[4,4,4,1,1,8,2,4,6,5,5,4,2,1,3,1,7,9,5,5,-4,0,-4,0,8,10,12,9,7,11,14,14],
[1,0,0,-2,2,5,1,3,6,7,4,7,-1,2,4,2,5,7,4,2,-3,1,-3,0,7,10,12,8,8,12,14,14],
[-2,-4,0,-6,-3,5,0,3,2,3,4,5,-1,-2,-1,0,2,3,0,0,-9,-7,-8,-6,4,7,7,6,6,8,7,11],
[0,-2,0,0,3,6,3,3,5,4,7,5,2,-1,1,2,4,4,3,2,-4,-2,-3,-1,8,11,11,10,6,8,11,10],
[-2,-1,-3,-2,-3,-5,-2,-3,-3,-5,-3,-4,2,3,3,0,-3,-4,-1,-1,5,2,7,4,2,-2,-1,1,-2,-2,-4,-4],
[-3,0,-3,-1,-5,-5,-1,-3,-1,-5,-6,-2,1,2,0,0,-3,-4,-4,-1,2,-2,1,0,4,-1,1,5,-3,-3,-6,-5],
[-3,1,-1,0,0,-3,0,0,-3,-4,-4,-4,1,3,1,0,-2,-4,-1,2,6,3,6,3,1,-1,0,4,-2,-5,-5,-3],
[-1,-3,-3,-3,3,2,4,2,0,-1,-2,-1,3,2,3,1,-2,-5,-2,-3,-1,-3,1,0,3,3,0,3,-2,-4,-2,-3],
[-3,-4,-5,-5,-9,-9,-7,-7,-2,-3,-2,-3,2,-1,-3,2,-3,-3,-5,-3,1,-3,2,0,2,-2,0,3,1,0,-1,-1],
[-6,-4,-5,-6,-7,-10,-3,-8,-1,0,-1,0,2,1,2,0,-3,-1,-2,-2,3,0,4,1,3,0,2,5,2,1,-2,1],
[-2,-3,-4,-3,-9,-9,-6,-8,-2,-3,-4,-2,0,0,0,1,-4,-4,-6,-2,2,-2,2,1,2,-2,2,3,0,1,-4,0],
[-5,-5,-4,-8,-8,-9,-5,-7,-1,-3,-2,-2,1,-1,-2,2,-4,-2,-2,0,-1,-6,0,-1,4,-3,-1,3,-2,-1,-5,-3],
[-5,-3,-4,-2,-2,-3,0,1,0,-1,-2,0,-4,-5,-6,-7,1,-1,2,4,-3,-8,-2,-4,2,-2,-2,2,1,-2,-2,0],
[-4,-3,-3,-3,-2,-3,-1,0,-2,0,2,4,-5,-5,-4,-6,1,-2,3,5,3,0,4,3,1,-6,-2,-1,1,0,-1,0],
[-3,-1,-2,-1,-2,-6,-2,-1,-5,-3,-2,-1,-2,-1,-2,-1,3,0,3,2,5,2,2,1,0,-5,0,0,1,0,-1,-1],
[1,0,-3,-1,0,0,-1,0,-1,1,1,4,-1,-2,-4,-4,2,2,2,6,4,1,3,5,4,0,2,3,2,-1,0,1],
[4,3,3,3,0,4,3,0,-1,-2,2,1,-1,0,-1,3,3,4,2,6,1,1,1,1,1,2,4,1,3,2,2,3],
[3,1,3,4,4,3,4,2,0,1,1,1,-2,0,-2,2,4,1,2,4,0,-2,-2,1,-1,0,0,2,3,3,3,3],
[2,0,2,2,5,5,6,3,0,1,2,2,-3,-3,-4,-1,4,2,3,5,1,-1,0,0,-3,1,1,1,4,3,5,6],
[1,0,0,2,4,6,7,7,1,4,6,5,1,-1,0,0,2,2,2,3,-2,-2,-3,-3,-3,0,0,3,5,3,5,6],
[8,10,6,9,7,4,4,6,0,-1,-6,1,0,2,0,0,2,0,2,3,6,8,4,6,2,2,1,2,-2,0,1,-3],
[5,9,8,8,9,5,7,6,-1,2,-1,3,0,3,0,-1,4,2,4,5,7,11,8,10,2,5,3,3,5,5,7,6],
[7,9,6,9,7,5,7,4,-1,1,-2,1,2,4,2,-1,4,2,5,5,11,12,11,11,1,4,2,1,3,3,4,4],
[8,9,8,10,7,4,7,6,1,2,-1,2,3,3,2,0,3,4,4,6,8,11,8,11,5,5,3,3,4,5,5,4]];
const r96c96=[
[100,17,19,17,2,1,1,3,-1,-3,-3,-4,-2,3,3,3,4,4,2,3,8,7,6,7,4,5,4,3,2,3,4,5],
[17,100,15,18,2,2,1,3,0,-1,-2,-4,-1,2,1,0,9,7,8,7,12,12,8,12,1,2,2,0,5,5,7,7],
[19,15,100,16,2,1,0,2,0,0,-1,-3,1,2,4,4,8,7,5,5,7,10,6,8,2,4,4,3,4,4,7,7],
[17,18,16,100,4,2,2,4,-1,-1,-2,0,2,3,5,3,7,7,6,6,10,9,6,9,0,2,2,3,4,5,8,5],
[2,2,2,4,100,17,19,20,3,4,5,4,2,3,6,4,5,3,6,5,3,6,2,5,-2,6,1,3,8,8,10,9],
[1,2,1,2,17,100,17,17,4,6,6,5,-1,-1,1,-1,8,4,6,6,-1,4,0,3,-3,5,2,2,7,6,13,12],
[1,1,0,2,19,17,100,19,1,5,6,5,3,3,2,0,5,1,4,3,0,1,2,2,-5,2,-1,1,8,8,8,11],
[3,3,2,4,20,17,19,100,4,6,5,5,2,3,6,-1,7,3,5,3,1,2,3,2,-3,4,1,3,8,7,11,9],
[-1,0,0,-1,3,4,1,4,100,11,8,10,-1,-1,2,1,0,3,0,0,-3,1,-1,0,5,7,8,6,6,6,9,10],
[-3,-1,0,-1,4,6,5,6,11,100,12,12,-1,-3,-2,-1,4,4,4,2,-3,2,-2,0,3,7,6,6,8,8,12,13],
[-3,-2,-1,-2,5,6,6,5,8,12,100,13,0,-2,-2,-1,3,3,1,5,-2,1,1,1,2,5,5,4,11,11,13,14],
[-4,-4,-3,0,4,5,5,5,10,12,13,100,4,-2,1,0,2,0,1,2,-3,-1,-2,-2,3,7,5,5,11,10,15,14],
[-2,-1,1,2,2,-1,3,2,-1,-1,0,4,100,13,16,13,1,4,3,-1,3,5,5,5,5,5,3,6,5,6,7,7],
[3,2,2,3,3,-1,3,3,-1,-3,-2,-2,13,100,18,16,-2,3,1,2,7,8,8,10,3,5,4,5,3,8,9,8],
[3,1,4,5,6,1,2,6,2,-2,-2,1,16,18,100,17,0,4,1,1,7,9,9,8,4,5,2,6,4,9,11,10],
[3,0,4,3,4,-1,0,-1,1,-1,-1,0,13,16,17,100,0,4,-1,-1,2,3,2,3,6,4,3,5,5,6,8,6],
[4,9,8,7,5,8,5,7,0,4,3,2,1,-2,0,0,100,11,11,11,7,9,7,8,4,3,5,5,8,10,12,12],
[4,7,7,7,3,4,1,3,3,4,3,0,4,3,4,4,11,100,14,10,5,9,7,8,6,6,7,7,7,8,10,12],
[2,8,5,6,6,6,4,5,0,4,1,1,3,1,1,-1,11,14,100,11,10,12,10,12,3,4,4,3,10,10,12,10],
[3,7,5,6,5,6,3,3,0,2,5,2,-1,2,1,-1,11,10,11,100,6,8,7,8,3,2,6,6,6,8,9,8],
[8,12,7,10,3,-1,0,1,-3,-3,-2,-3,3,7,7,2,7,5,10,6,100,31,29,31,0,-2,-2,1,6,10,7,12],
[7,12,10,9,6,4,1,2,1,2,1,-1,5,8,9,3,9,9,12,8,31,100,28,31,3,2,6,4,10,14,16,16],
[6,8,6,6,2,0,2,3,-1,-2,1,-2,5,8,9,2,7,7,10,7,29,28,100,29,1,-1,-1,1,10,11,10,14],
[7,12,8,9,5,3,2,2,0,0,1,-2,5,10,8,3,8,8,12,8,31,31,29,100,5,3,7,4,7,12,13,15],
[4,1,2,0,-2,-3,-5,-3,5,3,2,3,5,3,4,6,4,6,3,3,0,3,1,5,100,18,18,20,4,7,9,6],
[5,2,4,2,6,5,2,4,7,7,5,7,5,5,5,4,3,6,4,2,-2,2,-1,3,18,100,21,24,8,11,15,10],
[4,2,4,2,1,2,-1,1,8,6,5,5,3,4,2,3,5,7,4,6,-2,6,-1,7,18,21,100,21,7,10,13,10],
[3,0,3,3,3,2,1,3,6,6,4,5,6,5,6,5,5,7,3,6,1,4,1,4,20,24,21,100,10,11,15,11],
[2,5,4,4,8,7,8,8,6,8,11,11,5,3,4,5,8,7,10,6,6,10,10,7,4,8,7,10,100,25,29,30],
[3,5,4,5,8,6,8,7,6,8,11,10,6,8,9,6,10,8,10,8,10,14,11,12,7,11,10,11,25,100,32,34],
[4,7,7,8,10,13,8,11,9,12,13,15,7,9,11,8,12,10,12,9,7,16,10,13,9,15,13,15,29,32,100,38],
[5,7,7,5,9,12,11,9,10,13,14,14,7,8,10,6,12,12,10,8,12,16,14,15,6,10,10,11,30,34,38,100]];

const blocks=[[0,0,r0c0],[0,32,r0c32],[0,64,r0c64],[0,96,r0c96],[32,32,r32c32],[32,64,r32c64],[32,96,r32c96],[64,64,r64c64],[64,96,r64c96],[96,96,r96c96]];
const N=128;
const M=Array.from({length:N},()=>new Array(N).fill(0));
blocks.forEach(([r0,c0,b])=>b.forEach((row,i)=>row.forEach((v,j)=>{
  const r=r0+i,c=c0+j;
  if(r<=c){M[r][c]=v;M[c][r]=v;}
})));
const idx=[...Array(N).keys()];
const labels=M.map(row=>row.map(String));
const diag=M.map((row,r)=>row.map((v,c)=>r===c?v:null));
const diagLabels=M.map((row,r)=>row.map((v,c)=>r===c?String(v):''));
const ticks=idx.filter(i=>i%4===0);
const RdBu=[[0,'#67001f'],[0.1,'#b2182b'],[0.2,'#d6604d'],[0.3,'#f4a582'],[0.4,'#fddbc7'],[0.5,'#f7f7f7'],[0.6,'#d1e5f0'],[0.7,'#92c5de'],[0.8,'#4393c3'],[0.9,'#2166ac'],[1,'#053061']];
const F='"DejaVu Sans"';
const base={type:'heatmap',x:idx,y:idx,colorscale:RdBu,zmin:-30,zmax:30,showscale:false,texttemplate:'%{text}',hoverinfo:'skip'};
const axis={tickvals:ticks,ticktext:ticks.map(String),ticks:'outside',ticklen:5,tickwidth:1.1,tickcolor:'#000',tickfont:{family:F,size:13.9,color:'#000'},showline:true,linecolor:'#000',linewidth:1.1,mirror:true,showgrid:false,zeroline:false,tickangle:0};
Plotly.newPlot('c',[
 Object.assign({},base,{z:M,text:labels,textfont:{family:F,size:7,color:'#111'}}),
 Object.assign({},base,{z:diag,text:diagLabels,textfont:{family:F,size:7,color:'#fff'}})
],{width:3200,height:3200,margin:{l:52,r:23,t:36,b:39},paper_bgcolor:'#fff',plot_bgcolor:'#fff',
 font:{family:F,color:'#000'},
 title:{text:titleText,font:{family:F,size:16.67,color:'#000'},x:0.5045,xanchor:'center',y:0.9937,yanchor:'middle'},
 xaxis:Object.assign({range:[-0.5,127.5]},axis),
 yaxis:Object.assign({range:[127.5,-0.5]},axis)
},{displayModeBar:false,staticPlot:true});
</script></body></html>
